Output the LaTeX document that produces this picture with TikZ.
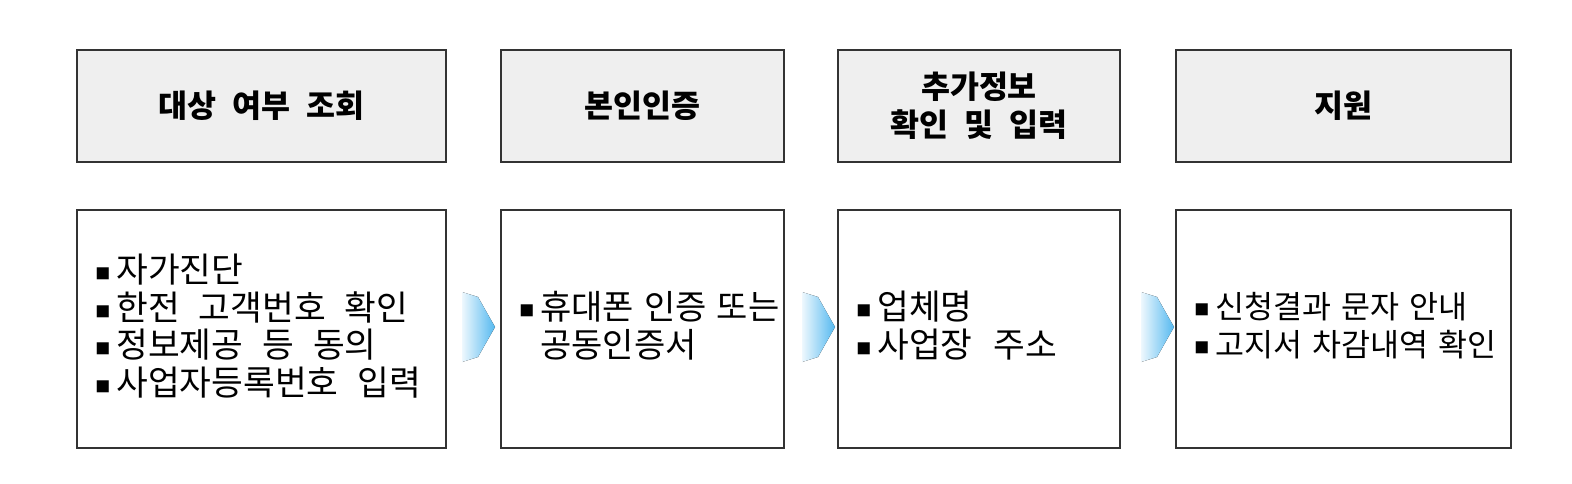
\documentclass[tikz,border=0pt]{standalone}
\usepackage{fontspec}
\setmainfont{Noto Sans CJK KR}
\usetikzlibrary{positioning}
\definecolor{edge}{HTML}{333333}
\definecolor{headfill}{HTML}{EFEFEF}
\definecolor{arrowblue}{RGB}{85,185,240}
\newcommand{\bul}{\makebox[21pt][l]{\raisebox{3pt}{\fontsize{15}{15}\selectfont ■}}}
\newcommand{\ind}{\hspace*{21pt}}
\newcommand{\spc}[1]{\spaceskip=#1pt plus 0pt minus 0pt\relax}
\begin{document}
\begin{tikzpicture}[x=1pt,y=-1pt,
  headbox/.style={draw=edge, line width=1.6pt, fill=headfill, minimum height=112pt,
    inner sep=0pt, align=center, font=\fontsize{31.5}{38}\selectfont\bfseries\spc{16}},
  bodybox/.style={draw=edge, line width=1.6pt, fill=white, minimum height=238pt, inner sep=0pt},
  bodytext/.style={anchor=west, inner sep=0pt, align=left},
  chev/.style={left color=arrowblue!10, middle color=arrowblue!85, right color=arrowblue, draw=none}
]
\useasboundingbox (0,0) rectangle (1572,484);
% header boxes
\node[headbox, minimum width=369pt] (h1) at (261.5,106) {대상 여부 조회};
\node[headbox, minimum width=283pt] (h2) at (642.5,106) {본인인증};
\node[headbox, minimum width=282pt] (h3) at (979,106) {추가정보\\확인 및 입력};
\node[headbox, minimum width=335pt] (h4) at (1343.5,106) {지원};
% body boxes
\node[bodybox, minimum width=369pt] (b1) at (261.5,329) {};
\node[bodybox, minimum width=283pt] (b2) at (642.5,329) {};
\node[bodybox, minimum width=282pt] (b3) at (979,329) {};
\node[bodybox, minimum width=335pt] (b4) at (1343.5,329) {};
% body texts
\node[bodytext, font=\fontsize{34.5}{37.7}\selectfont\spc{19}] (t1) at ([xshift=19pt,yshift=3pt]b1.west)
  {\bul 자가진단\\\bul 한전 고객번호 확인\\\bul 정보제공 등 동의\\\bul 사업자등록번호 입력};
\node[bodytext, font=\fontsize{34}{38}\selectfont\spc{10}] (t2) at ([xshift=19pt,yshift=3pt]b2.west)
  {\bul 휴대폰 인증 또는\\\ind 공동인증서};
\node[bodytext, font=\fontsize{34.5}{38}\selectfont\spc{21}] (t3) at ([xshift=19pt,yshift=3pt]b3.west)
  {\bul 업체명\\\bul 사업장 주소};
\node[bodytext, font=\fontsize{31.5}{38}\selectfont\spc{10}] (t4) at ([xshift=19pt,yshift=3pt]b4.west)
  {\bul 신청결과 문자 안내\\\bul 고지서 차감내역 확인};
% chevrons
\foreach \x/\n in {462/a1,802/a2,1141/a3}{
  \coordinate (\n) at (\x,327);
  \fill[chev] (\n) ++(0,-35) -- ++(16,5) -- ++(17,30) -- ++(-17,30) -- ++(-16,5) -- cycle;
}
\end{tikzpicture}
\end{document}
